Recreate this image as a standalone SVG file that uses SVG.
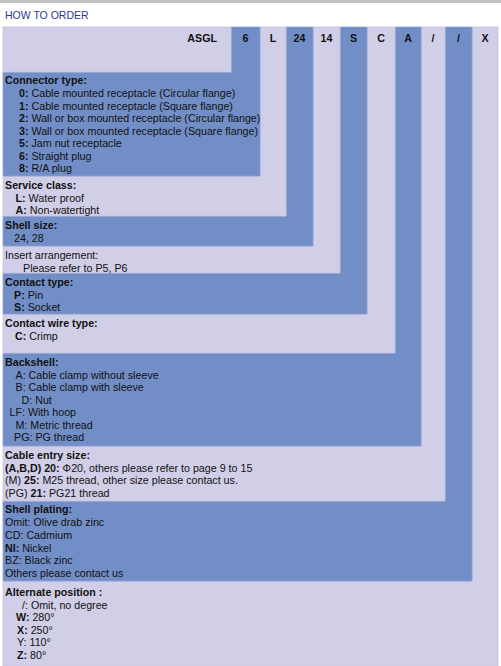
<svg xmlns="http://www.w3.org/2000/svg" width="501" height="666" viewBox="0 0 501 666">
<style>
text{font-family:"Liberation Sans",Arial,sans-serif;font-size:10.7px;fill:#111}
.b{font-weight:bold}
.hd{font-weight:bold;font-size:10.7px;text-anchor:middle}
.title{font-size:10.5px;fill:#2b3990}
.dk{fill:#728ec7;stroke:#8ea1d4;stroke-width:0.8}
.lt{fill:#d1cee7;stroke:#c6c3de;stroke-width:0.8}
</style>
<rect x="0" y="0" width="501" height="666" fill="#ffffff"/>
<rect x="0" y="0" width="501" height="3" fill="#c0c0c0"/>
<text class="title" x="5" y="19">HOW TO ORDER</text>

<g id="node-x">
<polygon class="lt" points="472,27 498,27 498,666 3,666 3,581 472,581"/>
<text class="hd" x="485" y="42">X</text>
<text x="5" y="596"><tspan class="b">Alternate position :</tspan></text>
<text x="22" y="608.5">/: Omit, no degree</text>
<text x="16" y="621"><tspan class="b">W:</tspan> 280°</text>
<text x="17" y="633.5"><tspan class="b">X:</tspan> 250°</text>
<text x="17" y="646">Y: 110°</text>
<text x="17" y="658.5"><tspan class="b">Z:</tspan> 80°</text>
</g>

<g id="node-plating">
<polygon class="dk" points="445,27 472,27 472,581 3,581 3,501 445,501"/>
<text class="hd" x="458.5" y="42">/</text>
<text x="5" y="513" class="b">Shell plating:</text>
<text x="5" y="525.5">Omit: Olive drab zinc</text>
<text x="5" y="538.5">CD: Cadmium</text>
<text x="5" y="551.5"><tspan class="b">NI:</tspan> Nickel</text>
<text x="5" y="564">BZ: Black zinc</text>
<text x="5" y="576.5">Others please contact us</text>
</g>

<g id="node-cable-entry">
<polygon class="lt" points="421,27 445,27 445,501 3,501 3,446 421,446"/>
<text class="hd" x="433" y="42">/</text>
<text x="5" y="459" class="b">Cable entry size:</text>
<text x="5" y="471.5"><tspan class="b">(A,B,D) 20:</tspan> Φ20, others please refer to page 9 to 15</text>
<text x="5" y="484">(M) <tspan class="b">25:</tspan> M25 thread, other size please contact us.</text>
<text x="5" y="496.5">(PG) <tspan class="b">21:</tspan> PG21 thread</text>
</g>

<g id="node-backshell">
<polygon class="dk" points="395,27 421,27 421,446 3,446 3,353 395,353"/>
<text class="hd" x="408" y="42">A</text>
<text x="5" y="366" class="b">Backshell:</text>
<text x="15.5" y="378.5">A: Cable clamp without sleeve</text>
<text x="15.5" y="391">B: Cable clamp with sleeve</text>
<text x="21.5" y="403.5">D: Nut</text>
<text x="9.5" y="416">LF: With hoop</text>
<text x="15.5" y="428.5">M: Metric thread</text>
<text x="14" y="441">PG: PG thread</text>
</g>

<g id="node-wire">
<polygon class="lt" points="367,27 395,27 395,353 3,353 3,314 367,314"/>
<text class="hd" x="381" y="42">C</text>
<text x="5" y="327" class="b">Contact wire type:</text>
<text x="15" y="339.5"><tspan class="b">C:</tspan> Crimp</text>
</g>

<g id="node-contact">
<polygon class="dk" points="340,27 367,27 367,314 3,314 3,273 340,273"/>
<text class="hd" x="353.5" y="42">S</text>
<text x="5" y="286" class="b">Contact type:</text>
<text x="14" y="298.5"><tspan class="b">P:</tspan> Pin</text>
<text x="14" y="311"><tspan class="b">S:</tspan> Socket</text>
</g>

<g id="node-insert">
<polygon class="lt" points="313,27 340,27 340,273 3,273 3,246 313,246"/>
<text class="hd" x="326.5" y="42">14</text>
<text x="5" y="259">Insert arrangement:</text>
<text x="23" y="271.5">Please refer to P5, P6</text>
</g>

<g id="node-shell-size">
<polygon class="dk" points="286,27 313,27 313,246 3,246 3,216 286,216"/>
<text class="hd" x="299.5" y="42">24</text>
<text x="5" y="229" class="b">Shell size:</text>
<text x="14" y="241.5">24, 28</text>
</g>

<g id="node-service">
<polygon class="lt" points="260,27 286,27 286,216 3,216 3,176 260,176"/>
<text class="hd" x="273" y="42">L</text>
<text x="5" y="189" class="b">Service class:</text>
<text x="15.5" y="201.5"><tspan class="b">L:</tspan> Water proof</text>
<text x="15.5" y="214"><tspan class="b">A:</tspan> Non-watertight</text>
</g>

<g id="node-connector">
<polygon class="dk" points="231,27 260,27 260,176 3,176 3,72 231,72"/>
<text class="hd" x="245.5" y="42">6</text>
<text x="5" y="84" class="b">Connector type:</text>
<text x="19" y="97"><tspan class="b">0:</tspan> Cable mounted receptacle (Circular flange)</text>
<text x="19" y="109.5"><tspan class="b">1:</tspan> Cable mounted receptacle (Square flange)</text>
<text x="19" y="122"><tspan class="b">2:</tspan> Wall or box mounted receptacle (Circular flange)</text>
<text x="19" y="134.5"><tspan class="b">3:</tspan> Wall or box mounted receptacle (Square flange)</text>
<text x="19" y="147"><tspan class="b">5:</tspan> Jam nut receptacle</text>
<text x="19" y="159.5"><tspan class="b">6:</tspan> Straight plug</text>
<text x="19" y="172"><tspan class="b">8:</tspan> R/A plug</text>
</g>

<g id="node-asgl">
<rect class="lt" x="3" y="27" width="228" height="45"/>
<text class="b" x="217" y="42" text-anchor="end">ASGL</text>
</g>

<g id="connectors"/>
</svg>
